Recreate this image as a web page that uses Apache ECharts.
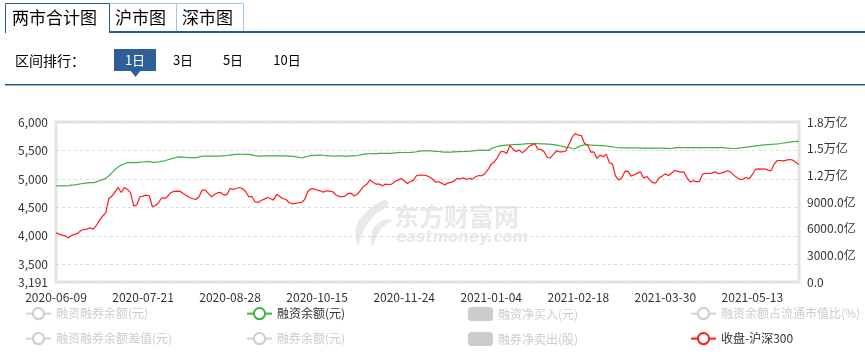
<!DOCTYPE html>
<html>
<head>
<meta charset="utf-8">
<script src="https://cdn.jsdelivr.net/npm/echarts@6/dist/echarts.min.js"></script>
<style>
html,body{margin:0;padding:0;background:#fff;}
#chart{width:865px;height:356px;}
</style>
</head>
<body>
<div id="chart"></div>
<script>
// Trading days (month -> days)
const tradingDays = [
  ['2020-06', '09 10 11 12 15 16 17 18 19 22 23 24 29 30'],
  ['2020-07', '01 02 03 06 07 08 09 10 13 14 15 16 17 20 21 22 23 24 27 28 29 30 31'],
  ['2020-08', '03 04 05 06 07 10 11 12 13 14 17 18 19 20 21 24 25 26 27 28 31'],
  ['2020-09', '01 02 03 04 07 08 09 10 11 14 15 16 17 18 21 22 23 24 25 28 29 30'],
  ['2020-10', '09 12 13 14 15 16 19 20 21 22 23 26 27 28 29 30'],
  ['2020-11', '02 03 04 05 06 09 10 11 12 13 16 17 18 19 20 23 24 25 26 27 30'],
  ['2020-12', '01 02 03 04 07 08 09 10 11 14 15 16 17 18 21 22 23 24 25 28 29 30 31'],
  ['2021-01', '04 05 06 07 08 11 12 13 14 15 18 19 20 21 22 25 26 27 28 29'],
  ['2021-02', '01 02 03 04 05 08 09 10 18 19 22 23 24 25 26'],
  ['2021-03', '01 02 03 04 05 08 09 10 11 12 15 16 17 18 19 22 23 24 25 26 29 30 31'],
  ['2021-04', '01 02 06 07 08 09 12 13 14 15 16 19 20 21 22 23 26 27 28 29 30'],
  ['2021-05', '06 07 10 11 12 13 14 17 18 19 20 21 24 25 26 27 28 31'],
  ['2021-06', '01 02 03']
];
const categories = [];
tradingDays.forEach(function (m) { m[1].split(' ').forEach(function (d) { categories.push(m[0] + '-' + d); }); });

// 收盘-沪深300
const csi300 = [
 4056,4032,4015,4003,3968,4009,4026,4044,4096,4114,
 4120,4143,4120,4184,4278,4348,4406,4658,4699,4775,
 4851,4763,4851,4816,4757,4523,4547,4687,4699,4716,
 4705,4512,4535,4582,4670,4658,4699,4763,4781,4787,
 4781,4740,4711,4675,4652,4640,4687,4804,4804,4746,
 4687,4728,4757,4763,4716,4728,4833,4816,4833,4851,
 4827,4781,4687,4693,4599,4588,4623,4646,4675,4652,
 4629,4734,4693,4652,4640,4582,4564,4570,4582,4588,
 4640,4781,4827,4827,4804,4792,4769,4792,4787,4775,
 4722,4693,4687,4699,4746,4746,4699,4734,4804,4874,
 4909,4980,4944,4909,4909,4880,4909,4903,4909,4956,
 4980,5009,4968,4921,4956,4980,5061,5067,5067,5061,
 5038,5003,4950,4950,4927,4892,4927,4939,4962,5009,
 5003,5020,4991,5009,4997,5038,5061,5056,5096,5167,
 5260,5301,5377,5477,5482,5447,5588,5523,5482,5506,
 5459,5506,5564,5594,5623,5523,5518,5477,5377,5371,
 5430,5494,5477,5477,5494,5611,5728,5798,5769,5763,
 5623,5599,5471,5477,5360,5418,5389,5436,5284,5260,
 5050,4980,5015,5132,5137,5050,5073,5102,5126,5015,
 5044,4980,4933,4933,5020,5050,5091,5061,5102,5149,
 5132,5120,5120,5020,4950,4968,4950,4956,5085,5096,
 5096,5102,5126,5091,5102,5120,5143,5120,5067,5026,
 4991,4997,5026,5003,5079,5167,5178,5173,5178,5155,
 5143,5260,5324,5324,5319,5330,5342,5330,5289,5254
];

// 融资余额 (亿元)
const financeBalance = [
 10798,10805,10810,10815,10850,10890,10930,10990,11050,11100,
 11150,11170,11175,11260,11395,11520,11657,11950,12300,12650,
 12930,13150,13300,13450,13440,13420,13430,13480,13500,13540,
 13560,13450,13480,13500,13600,13635,13750,13850,13950,14050,
 14080,14040,14010,14000,13990,13975,14080,14150,14160,14160,
 14160,14160,14170,14190,14200,14230,14280,14330,14360,14380,
 14370,14360,14350,14300,14220,14160,14170,14180,14190,14200,
 14200,14200,14200,14200,14195,14170,14150,14100,14030,13950,
 14050,14150,14220,14240,14250,14270,14260,14220,14180,14160,
 14170,14190,14180,14170,14160,14180,14200,14230,14300,14380,
 14410,14430,14440,14450,14460,14460,14460,14460,14480,14520,
 14550,14570,14570,14570,14570,14600,14650,14720,14750,14760,
 14755,14740,14690,14680,14650,14620,14605,14620,14640,14660,
 14675,14680,14690,14710,14750,14790,14830,14830,14810,14800,
 15000,15130,15250,15320,15360,15400,15430,15450,15470,15490,
 15500,15530,15560,15575,15580,15570,15550,15530,15510,15500,
 15460,15400,15330,15250,15180,15128,15050,14990,15200,15350,
 15430,15420,15400,15380,15370,15350,15340,15300,15250,15200,
 15160,15128,15100,15090,15090,15090,15085,15080,15070,15060,
 15055,15055,15055,15050,15050,15050,15040,15030,15020,15080,
 15110,15128,15128,15128,15128,15128,15128,15128,15128,15128,
 15128,15125,15120,15115,15110,15100,15060,15030,15016,15040,
 15080,15120,15170,15200,15260,15310,15350,15390,15420,15450,
 15480,15500,15530,15580,15640,15690,15740,15800,15820,15810
];

const leftAxisMin = 3191, leftAxisMax = 6000;
const rightAxisMax = 18000, rightAxisInterval = 3000;

const legendNames = [
  '融资融券余额(元)', '融资余额(元)', '融资净买入(元)', '融资余额占流通市值比(%)',
  '融资融券余额差值(元)', '融券余额(元)', '融券净卖出(股)', '收盘-沪深300'
];
const legendTypes = ['line', 'line', 'bar', 'line', 'line', 'line', 'bar', 'line'];
const legendSelected = {
  '融资融券余额(元)': false, '融资余额(元)': true, '融资净买入(元)': false, '融资余额占流通市值比(%)': false,
  '融资融券余额差值(元)': false, '融券余额(元)': false, '融券净卖出(股)': false, '收盘-沪深300': true
};
const tabLabels = ['两市合计图', '沪市图', '深市图'];
const rangeLabels = ['1日', '3日', '5日', '10日'];

const FONT = '"Microsoft YaHei","Noto Sans CJK SC",sans-serif';
const chart = echarts.init(document.getElementById('chart'), null, {renderer: 'canvas'});

const legendLefts = [25, 246, 468, 690];
const legendTops = [307, 332];
const legends = legendNames.map(function (n, i) {
  return {
    data: [n],
    left: legendLefts[i % 4],
    top: legendTops[Math.floor(i / 4)],
    itemWidth: 25, itemHeight: 14, itemGap: 5,
    padding: 0,
    inactiveColor: '#ccc',
    inactiveBorderColor: '#ccc',
    selected: legendSelected,
    textStyle: {fontSize: 12, color: '#333', fontFamily: FONT}
  };
});

const dataByName = {'融资余额(元)': financeBalance, '收盘-沪深300': csi300};
const colorByName = {'融资余额(元)': '#3fb041', '收盘-沪深300': '#ff1a1a'};
const series = legendNames.map(function (n, i) {
  const s = {
    name: n,
    type: legendTypes[i],
    yAxisIndex: n === '收盘-沪深300' ? 0 : 1,
    data: dataByName[n] || [],
    animation: false
  };
  if (s.type === 'line') {
    s.symbol = 'emptyCircle';
    s.symbolSize = 8;
    s.showSymbol = false;
    s.lineStyle = {width: 1.2};
    s.itemStyle = {color: colorByName[n] || '#999'};
    s.z = n === '收盘-沪深300' ? 4 : 3;
  } else {
    s.itemStyle = {color: '#999'};
  }
  return s;
});

const DARK = '#2c5b90';
const LIGHT = '#a6c6e6';
const WM = '#e9e9e9';
const graphics = [
  {type: 'rect', shape: {x: 109, y: 31, width: 756, height: 2}, style: {fill: DARK}, silent: true},
  {type: 'polyline', shape: {points: [[5.5, 33], [5.5, 3.5], [109.5, 3.5], [109.5, 33]]}, style: {stroke: DARK, lineWidth: 1, fill: null}},
  {type: 'polyline', shape: {points: [[110, 3.5], [176.5, 3.5], [176.5, 31]]}, style: {stroke: LIGHT, lineWidth: 1, fill: null}},
  {type: 'polyline', shape: {points: [[177, 3.5], [243.5, 3.5], [243.5, 31]]}, style: {stroke: LIGHT, lineWidth: 1, fill: null}},
  {type: 'text', x: 12, y: 18, style: {text: tabLabels[0], font: '17px ' + FONT, fill: '#000', verticalAlign: 'middle'}},
  {type: 'text', x: 115, y: 18, style: {text: tabLabels[1], font: '17px ' + FONT, fill: '#000', verticalAlign: 'middle'}},
  {type: 'text', x: 182, y: 18, style: {text: tabLabels[2], font: '17px ' + FONT, fill: '#000', verticalAlign: 'middle'}},
  {type: 'text', x: 15, y: 61, style: {text: '区间排行：', font: '14px ' + FONT, fill: '#000', verticalAlign: 'middle'}},
  {type: 'rect', shape: {x: 114, y: 49, width: 42, height: 22}, style: {fill: '#2e5f98'}},
  {type: 'polygon', shape: {points: [[130, 70], [141, 70], [135.5, 77]]}, style: {fill: '#2e5f98'}},
  {type: 'text', x: 135, y: 60, style: {text: rangeLabels[0], font: '13px ' + FONT, fill: '#fff', align: 'center', verticalAlign: 'middle'}},
  {type: 'text', x: 183, y: 60, style: {text: rangeLabels[1], font: '13px ' + FONT, fill: '#000', align: 'center', verticalAlign: 'middle'}},
  {type: 'text', x: 233, y: 60, style: {text: rangeLabels[2], font: '13px ' + FONT, fill: '#000', align: 'center', verticalAlign: 'middle'}},
  {type: 'text', x: 287, y: 60, style: {text: rangeLabels[3], font: '13px ' + FONT, fill: '#000', align: 'center', verticalAlign: 'middle'}},
  {type: 'rect', shape: {x: 5, y: 84, width: 860, height: 1.5}, style: {fill: DARK}},
  // watermark
  {type: 'polygon', z: 0, shape: {points: [[384, 200], [366, 212], [356, 228], [358, 245], [364, 230], [374, 216], [388, 205]], smooth: 0.4}, style: {fill: WM}},
  {type: 'polygon', z: 0, shape: {points: [[392, 220], [380, 222], [372, 232], [372, 246], [378, 234], [384, 226]], smooth: 0.4}, style: {fill: WM}},
  {type: 'text', x: 394, y: 216, z: 0, style: {text: '东方财富网', font: 'bold 25px ' + FONT, fill: WM, verticalAlign: 'middle'}},
  {type: 'text', x: 396, y: 238, z: 0, style: {text: 'eastmoney.com', font: 'italic bold 15px "DejaVu Sans",sans-serif', fill: WM, verticalAlign: 'middle'}}
];

chart.setOption({
  animation: false,
  textStyle: {fontFamily: FONT},
  graphic: graphics,
  legend: legends,
  grid: {left: 56, right: 66, top: 122, bottom: 74, show: true, borderColor: '#e3e3e3', borderWidth: 3, backgroundColor: 'transparent'},
  xAxis: {
    type: 'category',
    data: categories,
    boundaryGap: false,
    axisLine: {show: false},
    axisTick: {show: false},
    axisLabel: {interval: 27, color: '#333', fontSize: 12, margin: 9, fontFamily: FONT},
    splitLine: {show: false}
  },
  yAxis: [
    {
      type: 'value',
      min: leftAxisMin, max: leftAxisMax,
      splitNumber: 5,
      axisLine: {show: false},
      axisTick: {show: false},
      axisLabel: {color: '#333', fontSize: 12, margin: 8, fontFamily: FONT},
      splitLine: {show: true, lineStyle: {color: '#dcdcdc', type: [3, 3], width: 1}}
    },
    {
      type: 'value',
      min: 0, max: rightAxisMax, interval: rightAxisInterval,
      axisLine: {show: false},
      axisTick: {show: false},
      splitLine: {show: false},
      axisLabel: {
        color: '#333', fontSize: 12, margin: 8, fontFamily: FONT,
        formatter: function (v) {
          if (v === 0) return '0.0';
          if (v >= 10000) return (v / 10000).toFixed(1) + '万亿';
          return v.toFixed(1) + '亿';
        }
      }
    }
  ],
  series: series
});
</script>
</body>
</html>
